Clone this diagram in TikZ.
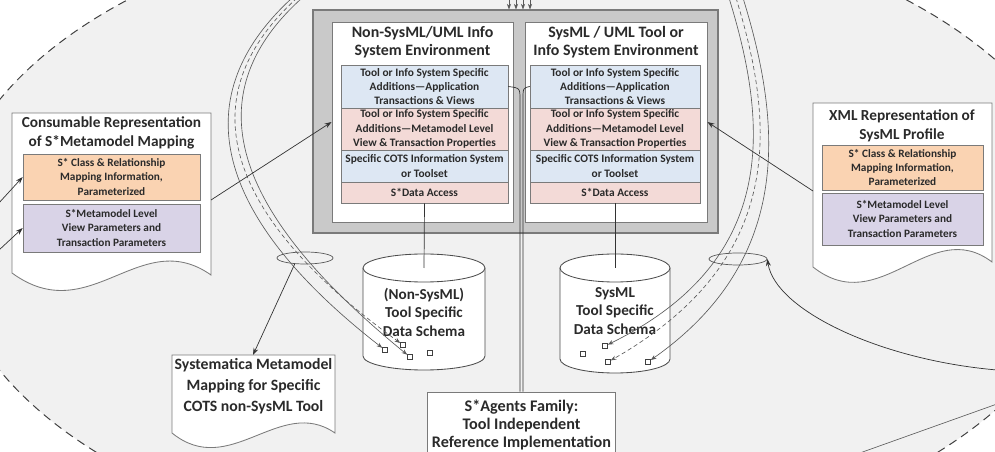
\documentclass[tikz,border=0pt]{standalone}
\usepackage{fontspec}
\setmainfont{Carlito}
\usepackage{xcolor}
\usepackage{tikz}
\usetikzlibrary{arrows.meta,shapes.geometric}
\definecolor{bggray}{HTML}{F1F1F1}
\definecolor{framegray}{HTML}{C9C9C9}
\definecolor{edgegray}{HTML}{7A7A7A}
\definecolor{layerblue}{HTML}{DDE7F3}
\definecolor{layerpink}{HTML}{F3DAD7}
\definecolor{peach}{HTML}{FAD3B2}
\definecolor{lavender}{HTML}{D9D3E7}
\definecolor{inkgray}{HTML}{2A2A2A}
\newcommand{\pxu}{0.025cm}
\begin{document}
\begin{tikzpicture}[x=0.025cm, y=-0.025cm,
    every node/.style={text=inkgray},
    envbox/.style={draw=edgegray, fill=white, line width=0.6pt, inner sep=0pt, minimum height=200*\pxu},
    envtitle/.style={align=center, font=\fontsize{11.3}{12.8}\selectfont\bfseries},
    layer/.style={draw=edgegray, line width=0.4pt, inner sep=0pt, align=center, font=\fontsize{8.1}{10.2}\selectfont\bfseries},
    doctitle/.style={align=center, font=\fontsize{10.9}{13.5}\selectfont\bfseries},
    docpart/.style={draw=edgegray, line width=0.4pt, inner sep=0pt, align=center, minimum width=177*\pxu, font=\fontsize{8}{10}\selectfont\bfseries},
    doc/.style={draw=edgegray, fill=white, line width=0.6pt},
    dbtext/.style={align=center, font=\fontsize{10.8}{13.2}\selectfont\bfseries},
    port/.style={draw=black!75, fill=white, line width=0.4pt, minimum size=5*\pxu, inner sep=0pt},
    ring/.style={ellipse, draw=black!65, line width=0.5pt, inner sep=0pt, minimum height=12*\pxu},
    plain/.style={draw=black!80, line width=0.5pt},
    link/.style={draw=black!80, line width=0.5pt, -{Stealth[length=5pt,width=3.5pt]}},
    trace/.style={draw=black!65, line width=0.45pt, -{Stealth[length=4pt,width=3pt]}}]
  \useasboundingbox (0,0) rectangle (995,452);
  \clip (0,0) rectangle (995,452);
  \fill[bggray] (517,235) ellipse[x radius=570, y radius=322];
  \draw[black!75, line width=0.7pt, dash pattern=on 6pt off 4pt] (517,235) ellipse[x radius=570, y radius=322];

  \node[draw=edgegray, fill=framegray, line width=0.8pt, inner sep=0pt, minimum width=405*\pxu, minimum height=223*\pxu] (envframe) at (515.5,121.5) {};
  \node[envbox, minimum width=181*\pxu] (nonsys) at (422.5,122) {};
  \node[envbox, minimum width=182*\pxu] (sysml) at (616,122) {};
  \node[envtitle] (nonsystitle) at (422.5,42) {Non-SysML/UML Info\\System Environment};
  \node[envtitle] (sysmltitle) at (616,42) {SysML / UML Tool or\\Info System Environment};

  \node[layer, fill=layerblue, minimum width=167*\pxu, minimum height=43*\pxu] (nl1) at (424.5,86.5) {Tool or Info System Specific\\Additions—Application\\Transactions \& Views};
  \node[layer, fill=layerpink, minimum width=167*\pxu, minimum height=42*\pxu] (nl2) at (424.5,129) {Tool or Info System Specific\\Additions—Metamodel Level\\View \& Transaction Properties};
  \node[layer, fill=layerblue, minimum width=167*\pxu, minimum height=32*\pxu] (nl3) at (424.5,166) {Specific COTS Information System\\or Toolset};
  \node[layer, fill=layerpink, minimum width=167*\pxu, minimum height=21*\pxu] (nl4) at (424.5,192.5) {S*Data Access};
  \node[layer, fill=layerblue, minimum width=170*\pxu, minimum height=43*\pxu] (sl1) at (615,86.5) {Tool or Info System Specific\\Additions—Application\\Transactions \& Views};
  \node[layer, fill=layerpink, minimum width=170*\pxu, minimum height=42*\pxu] (sl2) at (615,129) {Tool or Info System Specific\\Additions—Metamodel Level\\View \& Transaction Properties};
  \node[layer, fill=layerblue, minimum width=170*\pxu, minimum height=32*\pxu] (sl3) at (615,166) {Specific COTS Information System\\or Toolset};
  \node[layer, fill=layerpink, minimum width=170*\pxu, minimum height=21*\pxu] (sl4) at (615,192.5) {S*Data Access};

  \draw[doc] (12,113) -- (211,113) -- (211,275) .. controls (140,225) and (90,330) .. (12,273) -- cycle;
  \node[doctitle] (constitle) at (111.5,133) {Consumable Representation\\of S*Metamodel Mapping};
  \node[docpart, fill=peach, minimum height=46*\pxu] (consmap) at (111.5,177) {S* Class \& Relationship\\Mapping Information,\\Parameterized};
  \node[docpart, fill=lavender, minimum height=48*\pxu] (consview) at (111.5,228) {S*Metamodel Level\\View Parameters and\\Transaction Parameters};

  \draw[doc] (813,103) -- (992,103) -- (992,262) .. controls (930,215) and (880,320) .. (813,267) -- cycle;
  \node[doctitle] (xmltitle) at (902,126) {XML Representation of\\SysML Profile};
  \node[docpart, fill=peach, minimum width=161*\pxu, minimum height=45*\pxu] (xmlmap) at (902.5,167.5) {S* Class \& Relationship\\Mapping Information,\\Parameterized};
  \node[docpart, fill=lavender, minimum width=161*\pxu, minimum height=52*\pxu] (xmlview) at (902.5,219) {S*Metamodel Level\\View Parameters and\\Transaction Parameters};

  \draw[doc] (172,355) -- (335,355) -- (335,433) .. controls (280,395) and (230,480) .. (172,433) -- cycle;
  \node[doctitle, font=\fontsize{11.2}{14.8}\selectfont\bfseries] (systext) at (253.5,386) {Systematica Metamodel\\Mapping for Specific\\COTS non-SysML Tool};
  \coordinate (systop) at (253,355);

  \node[draw=edgegray, fill=white, line width=0.6pt, align=center, minimum width=187*\pxu, minimum height=66*\pxu, font=\fontsize{11.5}{12.8}\selectfont\bfseries] (agents) at (521.5,425) {S*Agents Family:\\Tool Independent\\Reference Implementation};

  \draw[draw=black!70, fill=white, line width=0.6pt] (363,268) -- (363,356) arc[start angle=180, end angle=0, x radius=61, y radius=14] -- (485,268);
  \draw[draw=black!70, fill=white, line width=0.6pt] (424,268) ellipse[x radius=61, y radius=14];
  \draw[draw=black!70, fill=white, line width=0.6pt] (560,268) -- (560,359) arc[start angle=180, end angle=0, x radius=55, y radius=14] -- (670,268);
  \draw[draw=black!70, fill=white, line width=0.6pt] (615,268) ellipse[x radius=55, y radius=14];
  \node[dbtext] (ndb) at (424,312) {(Non-SysML)\\Tool Specific\\Data Schema};
  \node[dbtext] (sdb) at (615,311) {SysML\\Tool Specific\\Data Schema};
  \coordinate (ndbtop) at (424,268);
  \coordinate (sdbtop) at (615,268);

  \node[port] (pa) at (385,350) {};
  \node[port] (pb) at (410,357) {};
  \node[port] (pc) at (403,345) {};
  \node[port] (pd) at (430,353) {};
  \node[port] (qa) at (605,346) {};
  \node[port] (qb) at (608,362) {};
  \node[port] (qc) at (648,362) {};
  \node[port] (qd) at (583,354) {};

  \draw[plain] (nl4.south) -- (ndbtop);
  \draw[plain] (sl4.south) -- (sdbtop);
  \draw[plain] (agents.north -| 520,0) -- (520,100) .. controls (520,88) .. (nl1.east);
  \draw[plain] (agents.north -| 523,0) -- (523,100) .. controls (523,88) .. (sl1.west);
  \foreach \x in {509,516,523,530}
    \draw[trace] (\x,-4) -- (\x,0 |- envframe.north);

  \draw[trace] (292,-2) .. controls (170,110) and (236,234) .. (pa);
  \draw[trace, densely dashed] (297,-2) .. controls (176,108) and (244,230) .. (pc);
  \draw[trace] (302,-2) .. controls (182,106) and (252,228) .. (pb);
  \draw[trace] (729,-2) .. controls (770,130) and (776,262) .. (qa);
  \draw[trace, densely dashed] (736,-2) .. controls (777,130) and (783,262) .. (qb);
  \draw[trace] (743,-2) .. controls (784,130) and (790,262) .. (qc);

  \node[ring, minimum width=56*\pxu] (nring) at (305,258) {};
  \node[ring, minimum width=58*\pxu] (sring) at (738,259) {};

  \coordinate (consout) at (211,200);
  \coordinate (xmlout) at (813,191);
  \coordinate (leftin1) at (-2,204);
  \coordinate (leftin2) at (-2,251);
  \coordinate (rightin) at (997,370);
  \coordinate (brA) at (857,454);
  \coordinate (brB) at (997,404);
  \draw[link] (consout) -- (nonsys.west);
  \draw[link] (xmlout) -- (sysml.east);
  \draw[link] (leftin1) -- (consmap.west);
  \draw[link] (leftin2) -- (consview.west);
  \draw[link] (nring.210) -- (systop);
  \draw[link] (rightin) .. controls (880,360) and (775,310) .. (sring.east);
  \draw[draw=black!65, line width=0.45pt] (brA) -- (brB);
\end{tikzpicture}
\end{document}
